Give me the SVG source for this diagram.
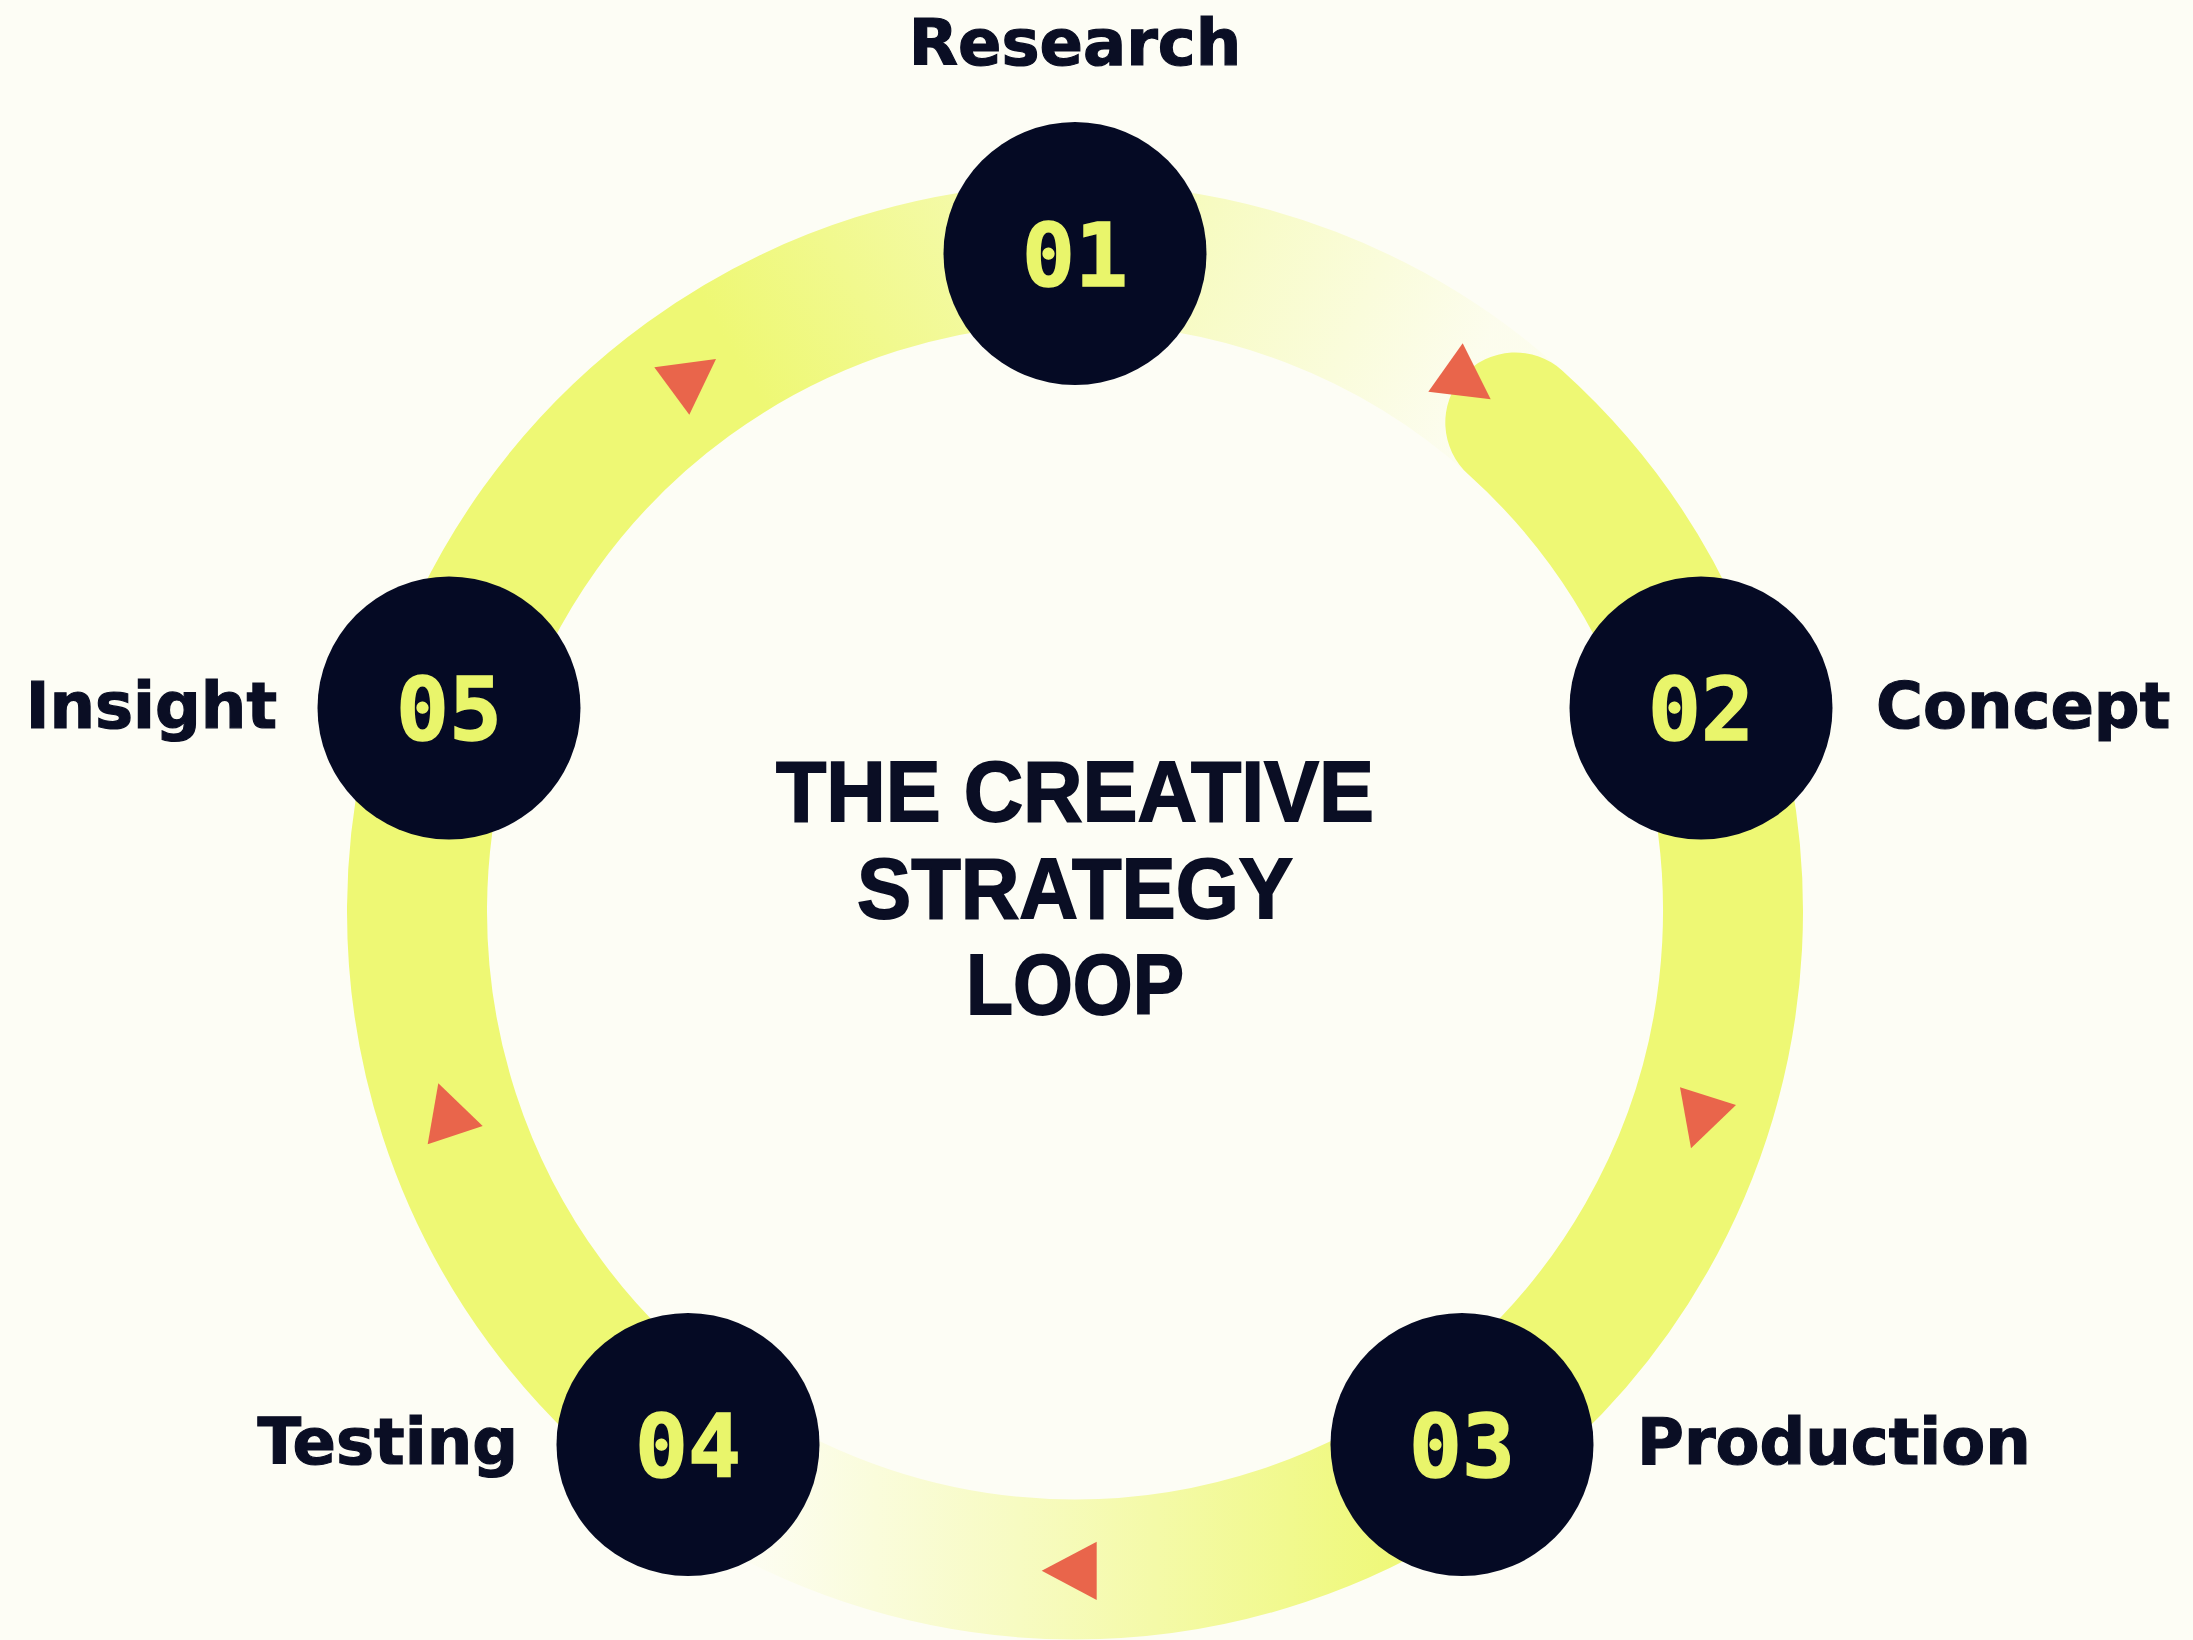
<svg xmlns="http://www.w3.org/2000/svg" width="2193" height="1640" viewBox="0 0 2193 1640">
<style>
.ring{fill:none;stroke-width:140}
.solid{stroke:#EEF874}
.node{fill:#050A24}
.num{font-family:"DejaVu Sans Mono","Liberation Mono",monospace;font-weight:bold;font-size:88px;fill:#E9F56B;stroke:#E9F56B;stroke-width:1.5;text-anchor:middle}
.lbl{font-family:"DejaVu Sans","Liberation Sans",sans-serif;font-weight:bold;font-size:64px;fill:#0A0E24;stroke:#0A0E24;stroke-width:1.2}
.title{font-family:"Liberation Sans",Arial,sans-serif;font-weight:bold;font-size:86px;fill:#0A0E24;stroke:#0A0E24;stroke-width:1.8;text-anchor:middle}
.arrow{fill:#E9654B}
</style>
<defs>
<linearGradient id="gA" gradientUnits="userSpaceOnUse" x1="760" y1="400" x2="1000" y2="260">
<stop offset="0" stop-color="#EEF874" stop-opacity="1"/>
<stop offset="1" stop-color="#EEF874" stop-opacity="0.6"/>
</linearGradient>
<linearGradient id="gB" gradientUnits="userSpaceOnUse" x1="1140" y1="255" x2="1460" y2="400">
<stop offset="0" stop-color="#EEF874" stop-opacity="0.45"/>
<stop offset="1" stop-color="#EEF874" stop-opacity="0.06"/>
</linearGradient>
<linearGradient id="gD" gradientUnits="userSpaceOnUse" x1="1420" y1="1500" x2="760" y2="1500">
<stop offset="0" stop-color="#EEF874" stop-opacity="1"/>
<stop offset="0.5" stop-color="#EEF874" stop-opacity="0.5"/>
<stop offset="1" stop-color="#EEF874" stop-opacity="0.04"/>
</linearGradient>
</defs>
<rect width="2193" height="1640" fill="#FDFDF5"/>
<g id="connectors">
<path class="ring" stroke="url(#gA)" d="M 449.2 708.2 A 658 658 0 0 1 1075 253.5"/>
<path class="ring" stroke="url(#gB)" d="M 1075 253.5 A 658 658 0 0 1 1515.3 422.5"/>
<path class="ring" stroke="url(#gD)" d="M 1461.8 1443.8 A 658 658 0 0 1 688.2 1443.8"/>
<path class="ring solid" d="M 688.2 1443.8 A 658 658 0 0 1 449.2 708.2"/>
<path class="ring solid" stroke-linecap="round" d="M 1515.3 422.5 A 658 658 0 0 1 1461.8 1443.8"/>
<polygon class="arrow" points="1462.7,343.3 1428.3,391.7 1490.7,399.3"/>
<polygon class="arrow" points="654.3,367.3 716,359 689.3,414.7"/>
<polygon class="arrow" points="438.3,1083.3 482.7,1126 427.7,1144.3"/>
<polygon class="arrow" points="1680,1087.3 1736,1105 1691,1148.3"/>
<polygon class="arrow" points="1096.7,1541.7 1041.7,1570.7 1096.7,1600"/>
</g>
<g id="title">
<text class="title" x="1075" y="821" textLength="598" lengthAdjust="spacingAndGlyphs">THE CREATIVE</text>
<text class="title" x="1075" y="918" textLength="436" lengthAdjust="spacingAndGlyphs">STRATEGY</text>
<text class="title" x="1075" y="1014" textLength="218" lengthAdjust="spacingAndGlyphs">LOOP</text>
</g>
<g id="node-01">
<circle class="node" cx="1075" cy="253.5" r="131.5"/>
<text class="num" x="1075" y="286">01</text>
<text class="lbl" x="1075" y="65" text-anchor="middle">Research</text>
</g>
<g id="node-02">
<circle class="node" cx="1701" cy="708" r="131.5"/>
<text class="num" x="1701" y="740">02</text>
<text class="lbl" x="1876" y="728">Concept</text>
</g>
<g id="node-03">
<circle class="node" cx="1462" cy="1444.5" r="131.5"/>
<text class="num" x="1462" y="1477">03</text>
<text class="lbl" x="1637" y="1464">Production</text>
</g>
<g id="node-04">
<circle class="node" cx="688" cy="1444.5" r="131.5"/>
<text class="num" x="688" y="1477">04</text>
<text class="lbl" x="518" y="1464" text-anchor="end">Testing</text>
</g>
<g id="node-05">
<circle class="node" cx="449" cy="708" r="131.5"/>
<text class="num" x="449" y="740">05</text>
<text class="lbl" x="277" y="728" text-anchor="end">Insight</text>
</g>
</svg>
